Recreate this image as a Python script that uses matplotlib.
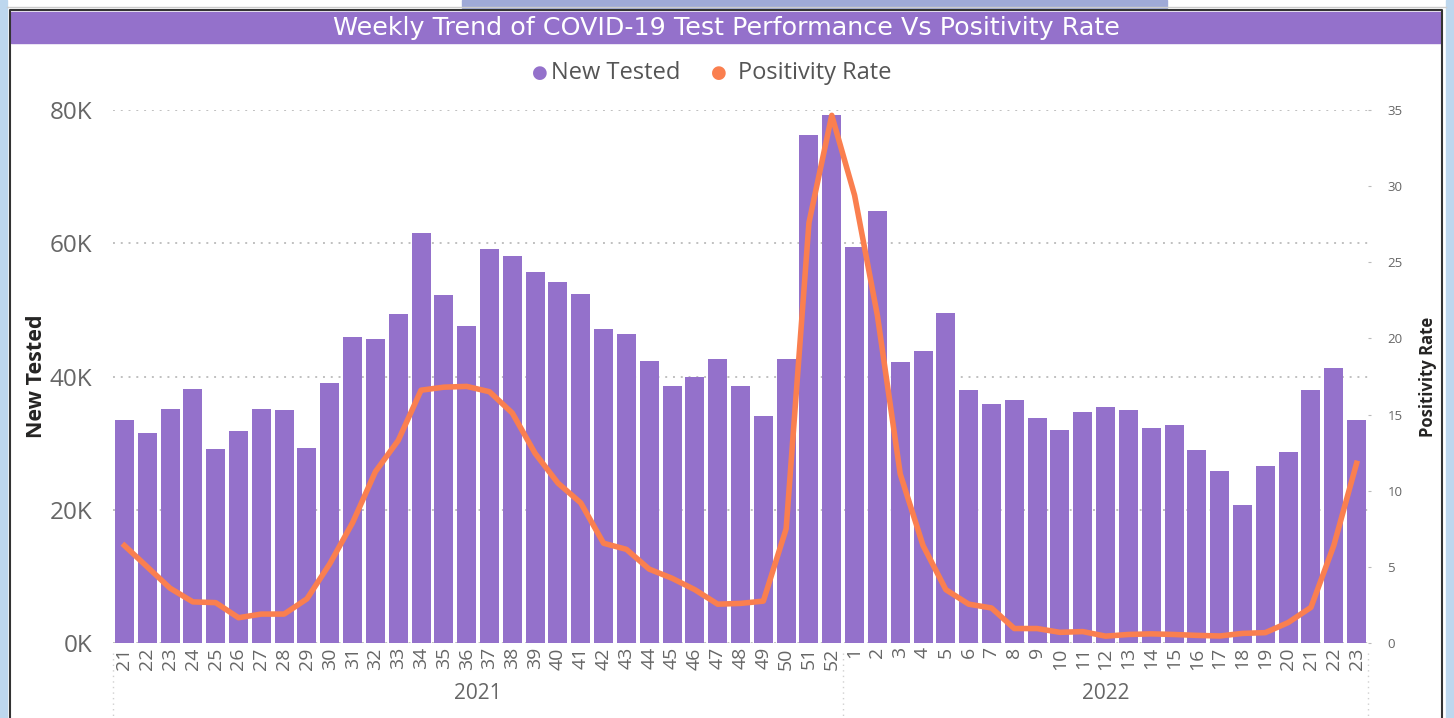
import numpy as np
import matplotlib.pyplot as plt
from matplotlib.patches import Rectangle
from matplotlib.lines import Line2D

# semaines 2021 (21-52) puis 2022 (1-23)
weeks_2021 = list(range(21, 53))
weeks_2022 = list(range(1, 24))
week_labels = [str(w) for w in weeks_2021 + weeks_2022]

new_tested = [33.4, 31.5, 35.1, 38.1, 29.1, 31.8, 35.1, 34.9, 29.3, 39.0,
              45.9, 45.6, 49.4, 61.5, 52.2, 47.6, 59.1, 58.1, 55.7, 54.2,
              52.4, 47.1, 46.4, 42.4, 38.6, 40.0, 42.7, 38.6, 34.1, 42.7,
              76.2, 79.2,
              59.5, 64.9, 42.2, 43.9, 49.5, 38.0, 35.8, 36.4, 33.8, 31.9,
              34.6, 35.4, 34.95, 32.2, 32.7, 29.0, 25.8, 20.7, 26.5, 28.6,
              38.0, 41.3, 33.5]
new_tested = [v * 1000 for v in new_tested]

positivity = [6.4, 5.0, 3.6, 2.7, 2.65, 1.66, 1.9, 1.9, 2.9, 5.2,
              7.9, 11.25, 13.3, 16.6, 16.8, 16.85, 16.5, 15.1, 12.45, 10.5,
              9.2, 6.55, 6.15, 4.85, 4.25, 3.5, 2.55, 2.6, 2.75, 7.5,
              27.6, 34.65,
              29.4, 21.5, 11.1, 6.4, 3.5, 2.55, 2.3, 0.95, 0.95, 0.7,
              0.75, 0.45, 0.56, 0.6, 0.56, 0.5, 0.46, 0.63, 0.68, 1.34,
              2.34, 6.4, 11.8]

bar_color = '#9471CB'
line_color = '#FA7F4F'
grey_txt = '#666666'

plt.rcParams['font.family'] = ['Open Sans', 'DejaVu Sans']

fig = plt.figure(figsize=(14.54, 7.18), dpi=100)
W, H = 1454, 718

def fx(px):
    return px / W

def fy(py):
    return 1 - py / H

# cadre exterieur
fig.patches.append(Rectangle((0, 0), fx(7), 1, transform=fig.transFigure,
                             color='#BDD7EE', zorder=0))
fig.patches.append(Rectangle((fx(1446), 0), fx(8), 1, transform=fig.transFigure,
                             color='#BDD7EE', zorder=0))
fig.patches.append(Rectangle((fx(462), fy(8)), fx(1167 - 462), 8 / H,
                             transform=fig.transFigure, color='#9FAAD8', zorder=0))
fig.lines.append(Line2D([fx(7), fx(1446)], [fy(7), fy(7)], transform=fig.transFigure,
                        color='#cccccc', lw=1))
fig.lines.append(Line2D([fx(10), fx(10), fx(1442), fx(1442)],
                        [0, fy(10), fy(10), 0], transform=fig.transFigure,
                        color='#333333', lw=1.5))

# bandeau titre
fig.patches.append(Rectangle((fx(11), fy(43)), fx(1441 - 11), 31 / H,
                             transform=fig.transFigure, color=bar_color, zorder=1))
fig.text(fx(726), fy(28), 'Weekly Trend of COVID-19 Test Performance Vs Positivity Rate',
         ha='center', va='center', color='white', fontsize=18.3,
         family='DejaVu Sans')

ax = fig.add_axes([fx(113), fy(643), fx(1368 - 113), (643 - 110) / H])
x = np.arange(len(week_labels))
ax.bar(x, new_tested, width=0.83, color=bar_color, zorder=2)
ax.set_xlim(-0.5, len(x) - 0.5)
ax.set_ylim(0, 80000)
ax.set_yticks([0, 20000, 40000, 60000, 80000])
ax.set_yticklabels(['0K', '20K', '40K', '60K', '80K'])
ax.tick_params(axis='y', length=0, labelsize=17.5, labelcolor=grey_txt, pad=15)
ax.yaxis.grid(True, color='#c0c0c0', linestyle=(0, (1, 3)), lw=1.4)
ax.set_axisbelow(True)
ax.set_xticks(x)
ax.set_xticklabels(week_labels, rotation=90, fontsize=14, color=grey_txt)
ax.tick_params(axis='x', length=0, pad=3)
for s in ax.spines.values():
    s.set_visible(False)
ax.set_ylabel('New Tested', fontsize=15.5, fontweight='bold', color='#252423', labelpad=2)

ax2 = ax.twinx()
ax2.plot(x, positivity, color=line_color, lw=4, zorder=3, solid_joinstyle='round',
         clip_on=False)
ax2.set_ylim(0, 35)
ax2.set_yticks([0, 5, 10, 15, 20, 25, 30, 35])
ax2.tick_params(axis='y', length=2, color='#bbbbbb', labelsize=9.5, labelcolor=grey_txt, pad=12)
for s in ax2.spines.values():
    s.set_visible(False)
ax2.set_ylabel('Positivity Rate', fontsize=12, fontweight='bold', color='#252423', labelpad=12)

# annees et separateurs
n21 = len(weeks_2021)
for xs in [-0.5, n21 - 0.5, len(x) - 0.5]:
    ax.plot([xs, xs], [-1500, -11500], color='#d0d0d0', lw=1, linestyle=(0, (1, 3)),
            clip_on=False)
ax.text((n21 - 1) / 2, -0.095, '2021', transform=ax.get_xaxis_transform(),
        ha='center', va='center', fontsize=15, color=grey_txt)
ax.text(n21 + (len(weeks_2022) - 1) / 2, -0.095, '2022', transform=ax.get_xaxis_transform(),
        ha='center', va='center', fontsize=15, color=grey_txt)

# legende
fig.text(fx(540), fy(73), '●', color=bar_color, fontsize=13, ha='center', va='center')
fig.text(fx(551), fy(73), 'New Tested', color='#555555', fontsize=17, ha='left', va='center')
fig.text(fx(719), fy(73), '●', color=line_color, fontsize=13, ha='center', va='center')
fig.text(fx(738), fy(73), 'Positivity Rate', color='#555555', fontsize=17, ha='left', va='center')

fig.savefig('out.png', dpi=100)
